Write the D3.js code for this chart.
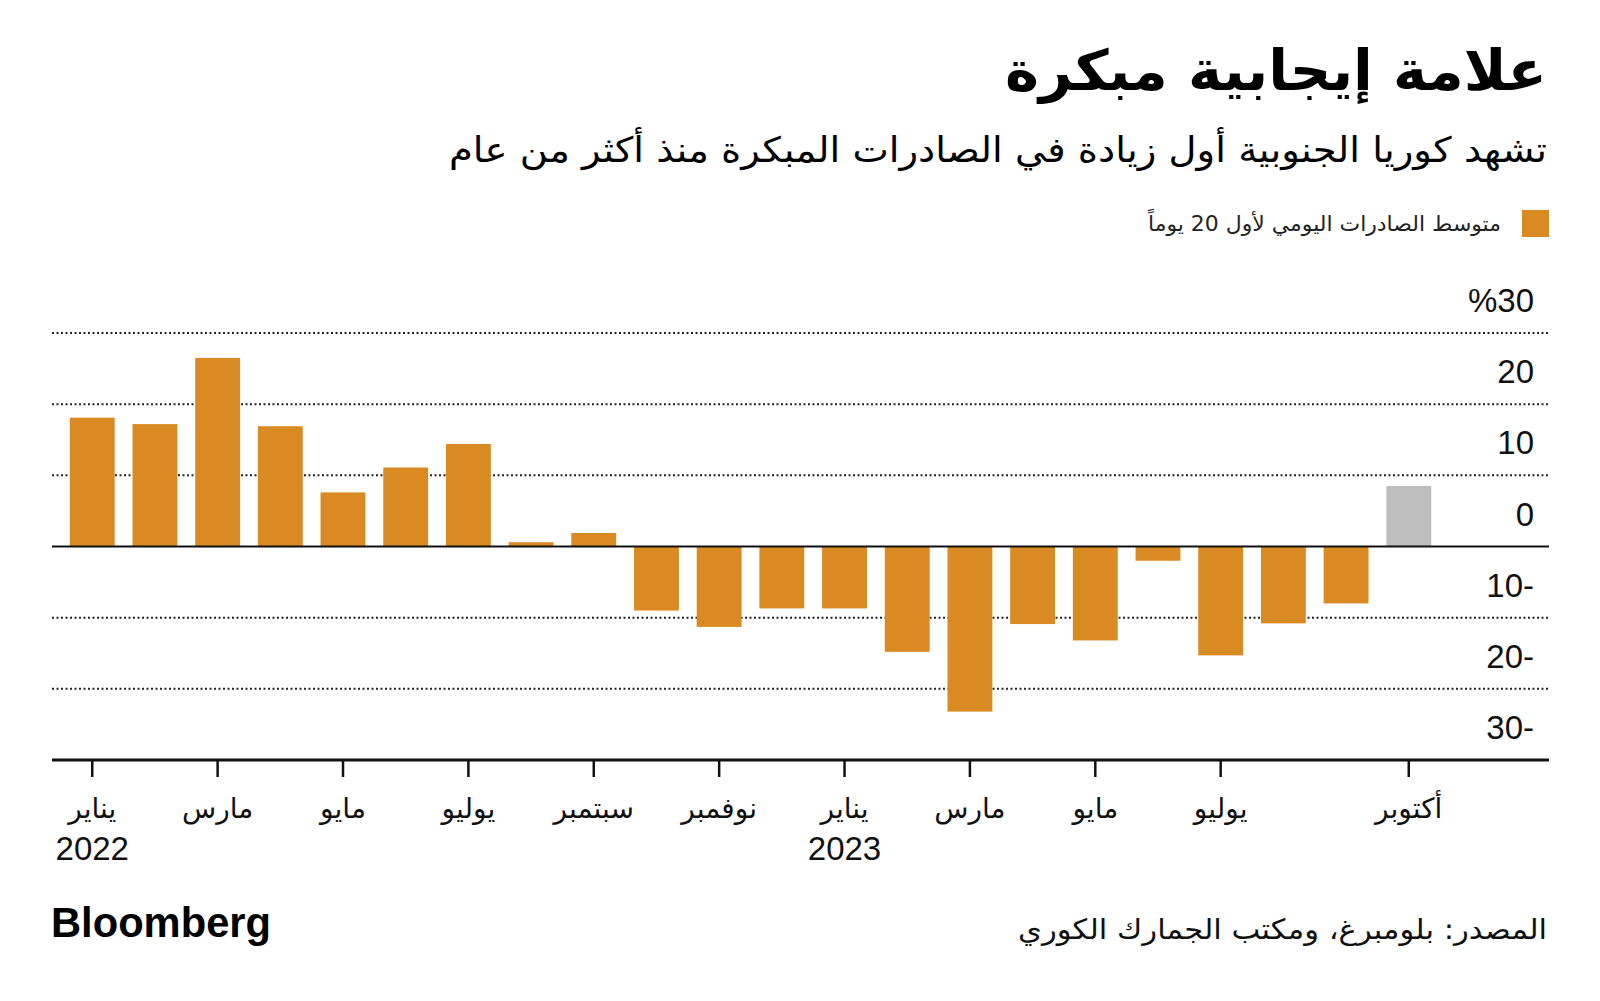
<!DOCTYPE html>
<html><head><meta charset="utf-8">
<script src="https://cdn.jsdelivr.net/npm/d3@7"></script>
<style>
html,body{margin:0;padding:0;background:#fff;}
svg{display:block;}
.ar{font-family:"DejaVu Sans","Noto Sans",sans-serif;}
.num{font-family:"Liberation Sans",Arial,sans-serif;}
</style></head>
<body>
<svg id="chart" width="1600" height="1001"></svg>
<script>
const months = ["2022-01","2022-02","2022-03","2022-04","2022-05","2022-06","2022-07","2022-08","2022-09","2022-10","2022-11","2022-12",
                "2023-01","2023-02","2023-03","2023-04","2023-05","2023-06","2023-07","2023-08","2023-09","2023-10"];
const values = [18.1,17.2,26.5,16.9,7.6,11.1,14.4,0.6,1.9,-9.0,-11.3,-8.7,
                -8.7,-14.8,-23.2,-10.9,-13.2,-2.0,-15.3,-10.8,-8.0,8.5];
const preliminary = ["2023-10"];
const yTicks = [30,20,10,0,-10,-20,-30];
const xTickMonths = ["2022-01","2022-03","2022-05","2022-07","2022-09","2022-11","2023-01","2023-03","2023-05","2023-07","2023-10"];
const xTickLabels = ["يناير","مارس","مايو","يوليو","سبتمبر","نوفمبر","يناير","مارس","مايو","يوليو","أكتوبر"];
const xTickYears = ["2022","","","","","","2023","","","",""];

const title = "علامة إيجابية مبكرة";
const subtitle = "تشهد كوريا الجنوبية أول زيادة في الصادرات المبكرة منذ أكثر من عام";
const legendLabel = "متوسط الصادرات اليومي لأول 20 يوماً";
const source = "المصدر: بلومبرغ، ومكتب الجمارك الكوري";

const svg = d3.select("#chart");
const left = 52, right = 1549;
const x = d3.scaleBand().domain(months).range([52, 1449]).padding(0.284);
const y = d3.scaleLinear().domain([-30, 30]).range([760, 333]);

// title
svg.append("text").attr("class","ar").attr("x",1547).attr("y",90)
  .attr("text-anchor","end").attr("font-size",56).attr("font-weight","bold").attr("fill","#000")
  .attr("textLength",542).attr("lengthAdjust","spacingAndGlyphs").text(title);
svg.append("text").attr("class","ar").attr("x",1547).attr("y",162)
  .attr("text-anchor","end").attr("font-size",35).attr("fill","#000")
  .attr("textLength",1098).attr("lengthAdjust","spacingAndGlyphs").text(subtitle);

// legend
svg.append("rect").attr("x",1522).attr("y",210).attr("width",27).attr("height",27).attr("fill","#D98A23");
svg.append("text").attr("class","ar").attr("x",1501).attr("y",231)
  .attr("text-anchor","end").attr("font-size",21).attr("fill","#222")
  .attr("textLength",353).attr("lengthAdjust","spacingAndGlyphs").text(legendLabel);

// gridlines
svg.append("g").selectAll("line").data(yTicks.filter(d => d !== 0 && d !== -30)).join("line")
  .attr("x1",left).attr("x2",right).attr("y1",d=>y(d)).attr("y2",d=>y(d))
  .attr("stroke","#222").attr("stroke-width",2).attr("stroke-dasharray","2,2.5");

// y labels
const fmt = d => d === 30 ? "%30" : d < 0 ? Math.abs(d) + "-" : String(d);
svg.append("g").selectAll("text").data(yTicks).join("text").attr("class","num")
  .attr("x",1534).attr("y",d=>y(d)-21).attr("text-anchor","end").attr("font-size",33).attr("fill","#111")
  .text(fmt);

// bars
svg.append("g").selectAll("rect").data(months).join("rect")
  .attr("x",d=>x(d)).attr("width",x.bandwidth())
  .attr("y",(d,i)=>y(Math.max(0,values[i])))
  .attr("height",(d,i)=>Math.abs(y(values[i])-y(0)))
  .attr("fill",d=>preliminary.includes(d) ? "#BDBDBD" : "#D98A23");

// zero line
svg.append("line").attr("x1",left).attr("x2",right).attr("y1",y(0)).attr("y2",y(0))
  .attr("stroke","#111").attr("stroke-width",2);

// x axis
const xa = svg.append("g");
xa.append("line").attr("x1",left).attr("x2",right).attr("y1",y(-30)).attr("y2",y(-30))
  .attr("stroke","#111").attr("stroke-width",3);
const cx = d => x(d) + x.bandwidth()/2;
xa.selectAll("line.tick").data(xTickMonths).join("line").attr("class","tick")
  .attr("x1",cx).attr("x2",cx).attr("y1",y(-30)).attr("y2",y(-30)+17)
  .attr("stroke","#111").attr("stroke-width",2.5);
xa.selectAll("text.m").data(xTickMonths).join("text").attr("class","m ar")
  .attr("x",cx).attr("y",818).attr("text-anchor","middle").attr("font-size",28).attr("fill","#111")
  .text((d,i)=>xTickLabels[i]);
xa.selectAll("text.yr").data(xTickMonths).join("text").attr("class","yr num")
  .attr("x",cx).attr("y",860).attr("text-anchor","middle").attr("font-size",33).attr("fill","#111")
  .text((d,i)=>xTickYears[i]);

// footer
svg.append("text").attr("x",51).attr("y",937).attr("font-family","Liberation Sans, Arial, sans-serif")
  .attr("font-weight","bold").attr("font-size",42).attr("fill","#000")
  .attr("textLength",220).attr("lengthAdjust","spacingAndGlyphs").text("Bloomberg");
svg.append("text").attr("class","ar").attr("x",1547).attr("y",939)
  .attr("text-anchor","end").attr("font-size",28).attr("fill","#111")
  .attr("textLength",529).attr("lengthAdjust","spacingAndGlyphs").text(source);
</script>
</body></html>
